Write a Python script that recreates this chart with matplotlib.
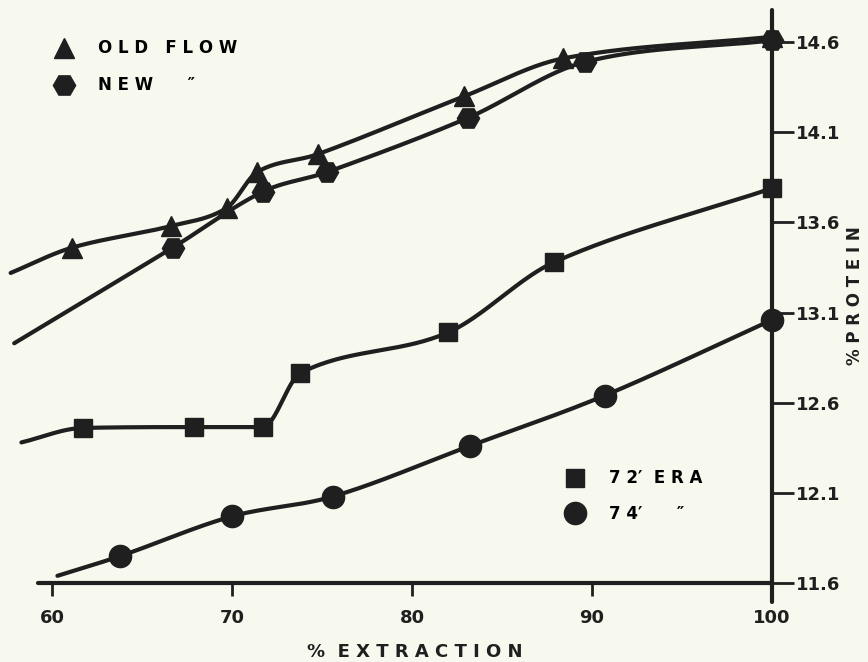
import numpy as np
import matplotlib
matplotlib.use("Agg")
import matplotlib.pyplot as plt
from matplotlib.lines import Line2D

# values (% extraction, % protein)
# first point of each list is where the drawn curve starts (no marker)
old_x = [57.7, 61.1, 66.6, 69.7, 71.4, 74.8, 82.9, 88.4, 100.0]
old_y = [13.32, 13.46, 13.58, 13.68, 13.88, 13.98, 14.30, 14.51, 14.63]

new_x = [57.9, 66.7, 71.7, 75.3, 83.1, 89.6, 100.0]
new_y = [12.93, 13.46, 13.77, 13.88, 14.18, 14.49, 14.61]

era72_x = [58.3, 61.7, 67.9, 71.7, 73.8, 82.0, 87.9, 100.0]
era72_y = [12.38, 12.46, 12.465, 12.465, 12.765, 12.99, 13.38, 13.79]

era74_x = [60.3, 63.8, 70.0, 75.6, 83.2, 90.7, 100.0]
era74_y = [11.64, 11.75, 11.97, 12.08, 12.36, 12.64, 13.06]

xticks = [60, 70, 80, 90, 100]
yticks = [11.6, 12.1, 12.6, 13.1, 13.6, 14.1, 14.6]
ytick_labels = ["11.6", "12.1", "12.6", "13.1", "13.6", "14.1", "14.6"]

ink = "#1f1f1f"
paper = "#f7f8ee"


def smooth(x, y, n=300):
    # smooth hermite curve through the points, like a french curve
    x = np.asarray(x, float)
    y = np.asarray(y, float)
    h = np.diff(x)
    d = np.diff(y) / h
    m = np.zeros_like(y)
    for k in range(1, len(x) - 1):
        if d[k - 1] * d[k] > 0:
            m[k] = (y[k + 1] - y[k - 1]) / (x[k + 1] - x[k - 1])
    m[0] = d[0]
    m[-1] = d[-1]
    # keep it from overshooting
    for k in range(len(h)):
        if d[k] == 0:
            m[k] = m[k + 1] = 0
            continue
        a, b = m[k] / d[k], m[k + 1] / d[k]
        s = a * a + b * b
        if s > 9:
            t = 3 / np.sqrt(s)
            m[k], m[k + 1] = t * a * d[k], t * b * d[k]
    xs = np.linspace(x[0], x[-1], n)
    i = np.clip(np.searchsorted(x, xs) - 1, 0, len(h) - 1)
    t = (xs - x[i]) / h[i]
    h00 = 2 * t**3 - 3 * t**2 + 1
    h10 = t**3 - 2 * t**2 + t
    h01 = -2 * t**3 + 3 * t**2
    h11 = t**3 - t**2
    ys = h00 * y[i] + h10 * h[i] * m[i] + h01 * y[i + 1] + h11 * h[i] * m[i + 1]
    return xs, ys


plt.rcParams["font.family"] = ["DejaVu Sans"]
plt.rcParams["font.weight"] = "bold"

fig = plt.figure(figsize=(8.68, 6.62), dpi=100, facecolor=paper)
ax = fig.add_axes([0, 0, 1, 1])
ax.set_facecolor(paper)
ax.set_xlim(57.11, 105.33)
ax.set_ylim(11.162, 14.834)

lw = 3.0
for xs, ys, mk, ms in [(old_x, old_y, "^", 14), (new_x, new_y, "H", 16),
                       (era72_x, era72_y, "s", 13), (era74_x, era74_y, "o", 16)]:
    cx, cy = smooth(xs, ys)
    ax.plot(cx, cy, color=ink, lw=lw, solid_capstyle="round")
    ax.plot(xs[1:], ys[1:], ls="none", marker=mk, ms=ms, color=ink)

# axes drawn like the hand-lettered original
for s in ["left", "top"]:
    ax.spines[s].set_visible(False)
ax.spines["right"].set_position(("data", 100))
ax.spines["bottom"].set_position(("data", 11.6))
ax.spines["right"].set_bounds(11.495, 14.778)
ax.spines["bottom"].set_bounds(59.2, 100)
for s in ["right", "bottom"]:
    ax.spines[s].set_linewidth(3.0)
    ax.spines[s].set_color(ink)
    ax.spines[s].set_capstyle("round")

ax.set_xticks(xticks)
ax.set_xticklabels([str(v) for v in xticks])
ax.set_yticks(yticks)
ax.set_yticklabels(ytick_labels)
ax.yaxis.tick_right()
ax.tick_params(axis="x", direction="out", length=9, width=2, color=ink,
               labelsize=13, pad=10, labelcolor=ink)
ax.tick_params(axis="y", direction="out", length=16, width=2, color=ink,
               labelsize=13, pad=1, labelcolor=ink)
for lab in ax.get_xticklabels() + ax.get_yticklabels():
    lab.set_fontweight("bold")

ax.set_xlabel("%  E X T R A C T I O N", fontsize=13, fontweight="bold", color=ink)
ax.xaxis.set_label_coords(415 / 868, 1 - 643 / 662)
ax.yaxis.set_label_position("right")
ax.set_ylabel("% P R O T E I N", fontsize=12, fontweight="bold", color=ink)
ax.yaxis.set_label_coords(846 / 868, 1 - 296 / 662)

# the two keys
h_old = Line2D([], [], ls="none", marker="^", ms=14, color=ink)
h_new = Line2D([], [], ls="none", marker="H", ms=16, color=ink)
h_72 = Line2D([], [], ls="none", marker="s", ms=13, color=ink)
h_74 = Line2D([], [], ls="none", marker="o", ms=16, color=ink)
key1 = ax.legend([h_old, h_new], ["O L D   F L O W", "N E W      \u2033"],
                 loc="upper left", bbox_to_anchor=(43 / 868, 1 - 31 / 662),
                 frameon=False, borderpad=0, handlelength=1.5, handletextpad=1.3,
                 labelspacing=1.15, prop={"size": 12, "weight": "bold"})
ax.add_artist(key1)
ax.legend([h_72, h_74], ["7 2\u2032  E R A", "7 4\u2032      \u2033"],
          loc="upper left", bbox_to_anchor=(554 / 868, 1 - 461 / 662),
          frameon=False, borderpad=0, handlelength=1.5, handletextpad=1.3,
          labelspacing=1.05, prop={"size": 12, "weight": "bold"})

fig.savefig("out.png", dpi=100, facecolor=paper)
